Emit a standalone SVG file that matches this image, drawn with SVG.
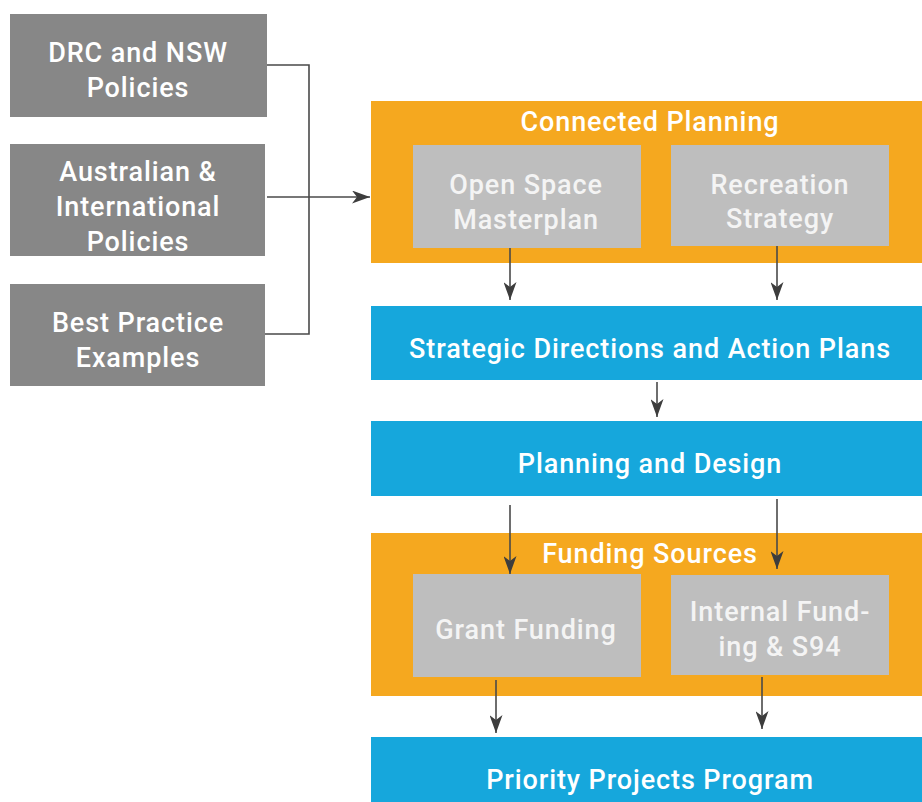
<svg xmlns="http://www.w3.org/2000/svg" width="922" height="802" viewBox="0 0 922 802">
<style>
.dark{fill:#878787}
.light{fill:#bebebe}
.orange{fill:#f5a81f}
.blue{fill:#16a7dc}
text{font-family:"Roboto","Liberation Sans",sans-serif;font-size:27px;font-weight:500;fill:#ffffff;text-anchor:middle;letter-spacing:0.9px}
.inner text{fill:#f4f4f4}
.conn{stroke:#4a4a4a;stroke-width:1.6;fill:none}
</style>
<defs>
<marker id="ah" viewBox="0 0 18 13" refX="18" refY="6.5" markerWidth="18" markerHeight="13" markerUnits="userSpaceOnUse" orient="auto">
<path d="M0,0 L18,6.5 L0,13 L5,6.5 Z" fill="#3d3d3d"/>
</marker>
</defs>
<rect width="922" height="802" fill="#ffffff"/>
<g id="drc"><rect class="dark" x="10" y="14" width="257" height="103"/><text x="138" y="62">DRC and NSW</text><text x="138" y="97">Policies</text></g>
<g id="australian"><rect class="dark" x="10" y="144" width="255" height="112"/><text x="138" y="181">Australian &amp;</text><text x="138" y="216">International</text><text x="138" y="251">Policies</text></g>
<g id="bestpractice"><rect class="dark" x="10" y="284" width="255" height="102"/><text x="138" y="332">Best Practice</text><text x="138" y="367">Examples</text></g>
<g id="connected"><rect class="orange" x="371" y="101" width="551" height="162"/><text x="650" y="131">Connected Planning</text></g>
<g id="openspace" class="inner"><rect class="light" x="413" y="145" width="228" height="103"/><text x="526" y="194">Open Space</text><text x="526" y="229">Masterplan</text></g>
<g id="recreation" class="inner"><rect class="light" x="671" y="145" width="218" height="101"/><text x="780" y="194">Recreation</text><text x="780" y="228">Strategy</text></g>
<g id="strategic"><rect class="blue" x="371" y="306" width="551" height="74"/><text x="650" y="358">Strategic Directions and Action Plans</text></g>
<g id="planning"><rect class="blue" x="371" y="421" width="551" height="75"/><text x="650" y="473">Planning and Design</text></g>
<g id="funding"><rect class="orange" x="371" y="533" width="551" height="163"/><text x="650" y="563">Funding Sources</text></g>
<g id="grant" class="inner"><rect class="light" x="413" y="574" width="228" height="103"/><text x="526" y="639">Grant Funding</text></g>
<g id="internal" class="inner"><rect class="light" x="671" y="575" width="218" height="100"/><text x="780" y="621">Internal Fund-</text><text x="780" y="656">ing &amp; S94</text></g>
<g id="priority"><rect class="blue" x="371" y="737" width="551" height="65"/><text x="650" y="789">Priority Projects Program</text></g>
<g id="connectors">
<path class="conn" d="M267,65 H309 V334 H265"/>
<path class="conn" d="M267,197 H370" marker-end="url(#ah)"/>
<path class="conn" d="M510,248 V300" marker-end="url(#ah)"/>
<path class="conn" d="M777,246 V300" marker-end="url(#ah)"/>
<path class="conn" d="M657,382 V417" marker-end="url(#ah)"/>
<path class="conn" d="M510,505 V574" marker-end="url(#ah)"/>
<path class="conn" d="M777,499 V569" marker-end="url(#ah)"/>
<path class="conn" d="M496,680 V733" marker-end="url(#ah)"/>
<path class="conn" d="M762,677 V729" marker-end="url(#ah)"/>
</g>
</svg>
